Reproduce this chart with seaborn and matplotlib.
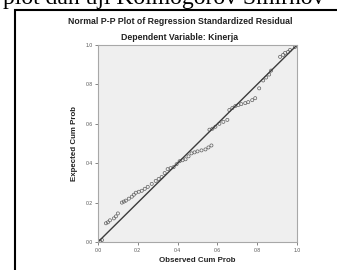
import pandas as pd
import matplotlib as mpl
mpl.use('agg')
import matplotlib.pyplot as plt
from matplotlib.patches import Rectangle
import seaborn as sns

# --- data
observed_cum_prob = [0.01, 0.02, 0.04, 0.05, 0.06, 0.08, 0.09, 0.10, 0.12, 0.13,
                     0.14, 0.155, 0.17, 0.18, 0.19, 0.205, 0.22, 0.235, 0.25, 0.27,
                     0.29, 0.305, 0.32, 0.335, 0.35, 0.365, 0.38, 0.395, 0.41, 0.425,
                     0.44, 0.455, 0.47, 0.485, 0.50, 0.52, 0.54, 0.555, 0.57, 0.56,
                     0.575, 0.59, 0.61, 0.63, 0.65, 0.66, 0.675, 0.69, 0.705, 0.72,
                     0.74, 0.755, 0.775, 0.79, 0.81, 0.83, 0.845, 0.86, 0.87, 0.915,
                     0.93, 0.94, 0.955, 0.965, 0.99]
expected_cum_prob = [0.005, 0.01, 0.095, 0.10, 0.11, 0.12, 0.13, 0.145, 0.20, 0.205,
                     0.21, 0.22, 0.23, 0.24, 0.25, 0.255, 0.26, 0.27, 0.28, 0.295,
                     0.31, 0.32, 0.33, 0.35, 0.37, 0.375, 0.38, 0.395, 0.41, 0.415,
                     0.42, 0.435, 0.45, 0.455, 0.46, 0.465, 0.47, 0.48, 0.49, 0.57,
                     0.575, 0.585, 0.60, 0.61, 0.62, 0.67, 0.68, 0.69, 0.695, 0.70,
                     0.705, 0.71, 0.72, 0.73, 0.78, 0.82, 0.835, 0.85, 0.87, 0.94,
                     0.95, 0.96, 0.965, 0.975, 0.99]
ref_line = [0.0, 1.0]
tick_vals = [0.0, 0.2, 0.4, 0.6, 0.8, 1.0]
tick_labels = ['0.0', '0.2', '0.4', '0.6', '0.8', '1.0']

sns.set_theme(style='white')
plt.rcParams['font.family'] = ['Liberation Sans', 'DejaVu Sans']

df = pd.DataFrame({'obs': observed_cum_prob, 'exp': expected_cum_prob})

fig = plt.figure(figsize=(3.37, 2.70), dpi=100)
fig.patch.set_facecolor('white')
ax = fig.add_axes([98/337, 28/270, 199/337, 197/270])
ax.set_facecolor('#efefef')

# --- diagonal reference line
sns.lineplot(x=ref_line, y=ref_line, color='#3c3c3c', linewidth=1.0, ax=ax)
# --- points
sns.scatterplot(data=df, x='obs', y='exp', marker='o', s=5,
                facecolor='none', edgecolor='#606060', linewidth=0.5, ax=ax)

ax.set_xlim(0, 1)
ax.set_ylim(0, 1)
ax.set_xticks(tick_vals)
ax.set_xticklabels(tick_labels)
ax.set_yticks(tick_vals)
ax.set_yticklabels(tick_labels)
ax.tick_params(axis='both', labelsize=3.7, colors='#555555', length=2.5, width=0.5,
               direction='out', pad=1.5, bottom=True, left=True)
for sp in ax.spines.values():
    sp.set_color('#a8a8a8')
    sp.set_linewidth(0.8)

ax.set_xlabel('Observed Cum Prob', fontsize=5.7, fontweight='bold', color='#222222', labelpad=3)
ax.set_ylabel('Expected Cum Prob', fontsize=5.7, fontweight='bold', color='#222222', labelpad=5)

fig.text(180/337, 1 - 22/270, 'Normal P-P Plot of Regression Standardized Residual',
         ha='center', va='center', fontsize=6.3, fontweight='bold', color='#222222')
fig.text(180/337, 1 - 37/270, 'Dependent Variable: Kinerja',
         ha='center', va='center', fontsize=6.3, fontweight='bold', color='#222222')

# --- document heading cut at the top and the frame around the chart
fig.text(3/337, 1 - 4/270, 'plot dan uji Kolmogorov Smirnov', ha='left', va='baseline',
         fontsize=17, family='Liberation Serif', color='black')
fig.add_artist(Rectangle((15/337, -0.1), 1.0, 1.1 - 10/270, transform=fig.transFigure,
                         fill=False, edgecolor='black', linewidth=1.5))

plt.savefig('out.png', dpi=100)
plt.close(fig)
